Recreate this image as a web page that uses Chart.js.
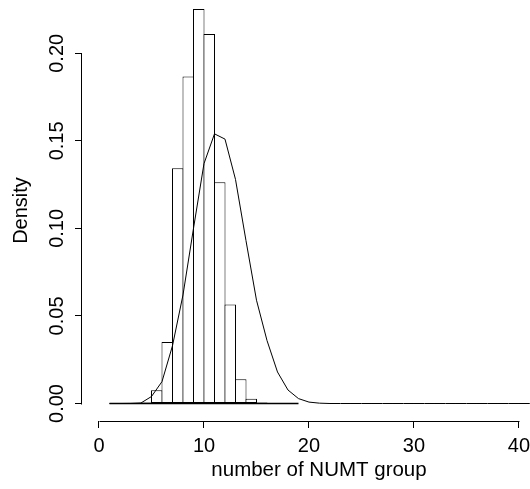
<!DOCTYPE html>
<html><head><meta charset="utf-8">
<script src="https://cdn.jsdelivr.net/npm/chart.js@4/dist/chart.umd.min.js"></script>
<style>html,body{margin:0;padding:0;background:#fff}canvas{display:block}</style>
</head><body>
<canvas id="c" width="530" height="489"></canvas>
<script>
// Histogram bins (left edge of each unit-wide bin) and densities
const binStarts  = [1, 2, 3, 4, 5, 6, 7, 8, 9, 10, 11, 12, 13, 14, 15, 16, 17, 18];
const binDensity = [0, 0, 0, 0.0006, 0.0075, 0.0351, 0.1344, 0.1867, 0.2253, 0.211, 0.1264, 0.0565, 0.0138, 0.0027, 0.0006, 0, 0, 0];
// Fitted curve, evaluated at integer counts
const curveX = [1,2,3,4,5,6,7,8,9,10,11,12,13,14,15,16,17,18,19,20,21,22,23,24,25,26,27,28,29,30,31,32,33,34,35,36,37,38,39,40,41,42];
const curveY = [0,0,0.00005,0.0003,0.004,0.0125,0.033,0.062,0.100,0.137,0.154,0.151,0.128,0.093,0.059,0.036,0.018,0.0077,0.0028,0.0008,0.0002,0,0,0,0,0,0,0,0,0,0,0,0,0,0,0,0,0,0,0,0,0];
// Axis ticks and titles
const xTicks = [0, 10, 20, 30, 40];
const yTicks = [0, 0.05, 0.10, 0.15, 0.20];
const xTitle = 'number of NUMT group';
const yTitle = 'Density';

const FONT = "'Liberation Sans', Arial, Helvetica, sans-serif";
Chart.defaults.font.family = FONT;
Chart.defaults.font.size = 20;
Chart.defaults.color = '#000';

const barData = binStarts.map((s, i) => ({x: s + 0.5, y: binDensity[i]}));
const baseData = [{x: binStarts[0], y: 0}, {x: binStarts[binStarts.length - 1] + 1, y: 0}];
const curveData = curveX.map((x, i) => ({x: x, y: curveY[i]}));

// R-style axes: axis lines span first..last tick; x title centred on the (wider, cropped) plot region
const PLOT_RIGHT = 556;
const rAxes = {
  id: 'rAxes',
  afterDraw(chart) {
    const {ctx, scales: {x, y}, chartArea} = chart;
    ctx.save();
    ctx.strokeStyle = '#000';
    ctx.lineWidth = 1;
    ctx.beginPath();
    const yb = Math.round(chartArea.bottom) + 0.5;
    ctx.moveTo(Math.round(x.getPixelForValue(xTicks[0])) + 0.5, yb);
    ctx.lineTo(Math.round(x.getPixelForValue(xTicks[xTicks.length - 1])) + 0.5, yb);
    const xl = Math.round(chartArea.left) - 0.5;
    ctx.moveTo(xl, Math.round(y.getPixelForValue(yTicks[0])) + 0.5);
    ctx.lineTo(xl, Math.round(y.getPixelForValue(yTicks[yTicks.length - 1])) + 0.5);
    ctx.stroke();
    ctx.fillStyle = '#000';
    ctx.font = "20.5px " + FONT;
    ctx.textAlign = 'center';
    ctx.textBaseline = 'alphabetic';
    ctx.fillText(xTitle, (chartArea.left + PLOT_RIGHT) / 2, x.bottom - 13);
    ctx.restore();
  }
};

new Chart(document.getElementById('c'), {
  data: {
    datasets: [
      {type: 'line', data: curveData, borderColor: '#000', borderWidth: 1, pointRadius: 0, tension: 0, fill: false, order: 0},
      {type: 'line', data: baseData, borderColor: '#000', borderWidth: 1.3, pointRadius: 0, fill: false, order: 1},
      {type: 'bar', data: barData, backgroundColor: '#fff', borderColor: '#000', borderWidth: 1,
       borderSkipped: false, barPercentage: 1.095, categoryPercentage: 1, order: 2}
    ]
  },
  options: {
    responsive: false,
    animation: false,
    layout: {padding: 0},
    plugins: {legend: {display: false}, tooltip: {enabled: false}},
    scales: {
      x: {
        type: 'linear', position: 'bottom', bounds: 'data', offset: false,
        min: -1.619, max: 41.048,
        afterBuildTicks: s => { s.ticks = xTicks.map(v => ({value: v})); },
        afterFit: s => { s.height = 68; s.paddingLeft = 0; s.paddingRight = 0; },
        grid: {display: true, offset: false, drawOnChartArea: false, drawTicks: true, tickLength: 7, color: '#000', lineWidth: 1},
        border: {display: false},
        ticks: {autoSkip: false, maxRotation: 0, padding: 6, callback: v => String(v)},
        title: {display: false}
      },
      y: {
        type: 'linear', position: 'left', bounds: 'data',
        min: -0.00999, max: 0.23044,
        afterBuildTicks: s => { s.ticks = yTicks.map(v => ({value: v})); },
        afterFit: s => { s.width = 82; s.paddingTop = 0; s.paddingBottom = 0; },
        grid: {display: true, drawOnChartArea: false, drawTicks: true, tickLength: 7, color: '#000', lineWidth: 1},
        border: {display: false},
        ticks: {autoSkip: false, minRotation: 90, maxRotation: 90, crossAlign: 'center', padding: -2,
                callback: v => v.toFixed(2)},
        title: {display: true, text: yTitle, padding: {top: 9, bottom: 0}}
      }
    }
  },
  plugins: [rAxes]
});
</script>
</body></html>
